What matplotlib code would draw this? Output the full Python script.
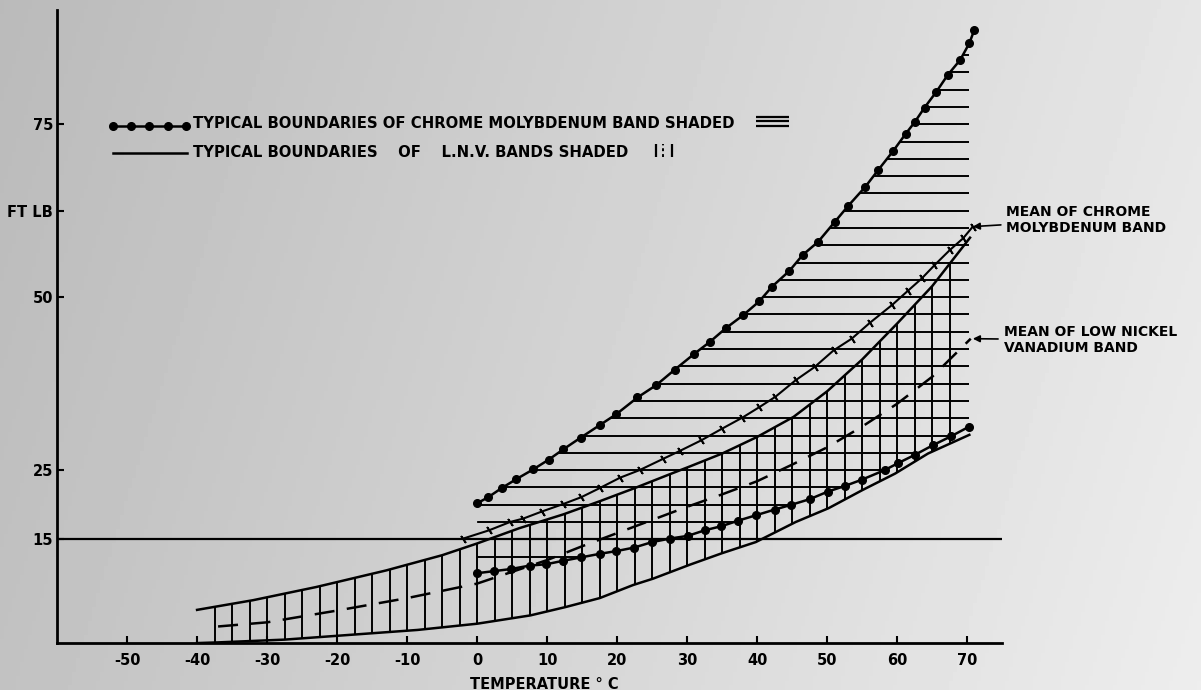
"""
Charpy-type impact curves: typical boundaries of the chrome molybdenum band
(horizontal hatch) and the low nickel vanadium band (vertical hatch).
"""

import numpy as np
import matplotlib.pyplot as plt
from matplotlib.patches import Polygon

plt.rcParams["font.family"] = ["DejaVu Sans"]
plt.rcParams["font.weight"] = "bold"
plt.rcParams["axes.unicode_minus"] = False

# chrome molybdenum band, upper boundary (dots as drawn)
crmo_upper_t = [0, 1.6, 3.5, 5.6, 8.0, 10.2, 12.3, 14.8, 17.5, 19.9, 22.9, 25.6,
                28.2, 31.0, 33.2, 35.5, 38.0, 40.3, 42.1, 44.6, 46.5, 48.7, 51.1,
                53.0, 55.4, 57.3, 59.4, 61.2, 62.5, 63.9, 65.6, 67.2, 69.0, 70.3, 71.0]
crmo_upper_v = [20.2, 21.1, 22.4, 23.7, 25.1, 26.5, 28.0, 29.7, 31.5, 33.1, 35.5, 37.3,
                39.5, 41.8, 43.5, 45.5, 47.4, 49.4, 51.5, 53.8, 56.1, 58.0, 60.9,
                63.2, 65.9, 68.4, 71.1, 73.6, 75.3, 77.4, 79.7, 82.1, 84.3, 86.7, 88.6]

# chrome molybdenum band, lower boundary
crmo_lower_t = [0, 2.4, 4.8, 7.5, 9.9, 12.3, 14.9, 17.5, 19.9, 22.4, 25.0, 27.5,
                30.1, 32.5, 34.9, 37.3, 39.9, 42.5, 44.9, 47.5, 50.1, 52.5, 54.9,
                58.2, 60.1, 62.5, 65.1, 67.7, 70.3]
crmo_lower_v = [10.1, 10.4, 10.7, 11.2, 11.4, 11.9, 12.4, 12.9, 13.3, 13.8, 14.6, 15.1,
                15.5, 16.3, 16.9, 17.7, 18.5, 19.3, 20.0, 20.8, 21.9, 22.7, 23.6,
                25.0, 26.0, 27.2, 28.6, 29.9, 31.3]

# mean of chrome molybdenum band (ticked line)
crmo_mean_t = [-2.0, 1.7, 4.7, 6.6, 9.2, 12.3, 14.9, 17.5, 20.4, 23.2, 26.5, 29.0, 32.0,
               35.0, 37.9, 40.3, 42.6, 45.5, 48.2, 50.9, 53.5, 56.1, 59.3, 61.5,
               63.5, 65.3, 67.5, 69.4, 70.8]
crmo_mean_v = [15.1, 16.3, 17.5, 18.0, 19.0, 20.1, 21.1, 22.4, 23.9, 25.0, 26.6, 27.8, 29.3,
               31.0, 32.6, 34.1, 35.6, 38.0, 39.9, 42.3, 44.0, 46.3, 48.9, 50.9,
               52.7, 54.6, 56.8, 58.5, 60.2]

# low nickel vanadium band, upper boundary
lnv_upper_t = [-40.0, -32.0, -23.0, -13.0, -5.0, 0, 6.0, 12.3, 17.5, 22.5, 27.5, 30.3,
               35.0, 40.0, 45.2, 50.0, 55.0, 60.0, 65.0, 70.4]
lnv_upper_v = [4.8, 6.2, 8.1, 10.5, 12.7, 14.4, 16.6, 18.6, 20.5, 22.4, 24.4, 25.5,
               27.4, 29.8, 32.7, 36.4, 41.0, 46.2, 51.6, 58.6]

# low nickel vanadium band, lower boundary
lnv_lower_t = [-40.0, -37.0, -27.5, -18.0, -8.5, 0, 7.6, 12.6, 17.5, 22.3, 25.1, 30.3,
               35.0, 39.8, 45.5, 50.2, 55.0, 59.7, 64.4, 70.3]
lnv_lower_v = [0.0, 0.1, 0.5, 1.2, 1.9, 2.8, 4.0, 5.2, 6.5, 8.4, 9.3, 11.3,
               13.0, 14.6, 17.5, 19.5, 22.1, 24.5, 27.4, 30.1]

# mean of low nickel vanadium band (dashed)
lnv_mean_t = [-37, -30, -20, -10, 0, 5, 10, 15, 20, 25, 30, 35, 40, 45, 50, 55, 60, 65, 70.5]
lnv_mean_v = [2.4, 3.0, 4.7, 6.5, 8.6, 10.3, 12.0, 14.0, 15.9, 17.8, 19.7, 21.5, 23.4,
              25.8, 28.3, 31.3, 34.6, 38.5, 44.0]

ref_level = 15
x_ticks = [-50, -40, -30, -20, -10, 0, 10, 20, 30, 40, 50, 60, 70]
y_ticks = [15, 25, 50, 62.5, 75]
y_tick_labels = ["15", "25", "50", "FT LB", "75"]


def band_polygon(ax, top_t, top_v, bot_t, bot_v):
    verts = list(zip(top_t, top_v)) + list(zip(bot_t[::-1], bot_v[::-1]))
    return Polygon(verts, closed=True, transform=ax.transData)


def main():
    fig = plt.figure(figsize=(12.01, 6.90), dpi=100)

    # scanned-paper background, darker on the left
    bg = fig.add_axes([0, 0, 1, 1], zorder=-10)
    gx, gy = np.meshgrid(np.linspace(0, 1, 300), np.linspace(0, 1, 150))
    shade = 0.73 + 0.17 * gx + 0.03 * gy
    bg.imshow(shade, cmap="gray", vmin=0, vmax=1, aspect="auto", extent=[0, 1, 0, 1])
    bg.axis("off")

    ax = fig.add_axes([0.0475, 0.068, 0.787, 0.9174])
    ax.set_facecolor("none")
    ax.set_xlim(-60, 75)
    ax.set_ylim(0, 91.5)

    # hatching of the two bands
    crmo_poly = band_polygon(ax, crmo_upper_t, crmo_upper_v, crmo_lower_t, crmo_lower_v)
    hl = ax.hlines(np.arange(2.5, 90, 2.5), 0, 70.3, colors="k", lw=1.4)
    hl.set_clip_path(crmo_poly)

    lnv_poly = band_polygon(ax, lnv_upper_t, lnv_upper_v, lnv_lower_t, lnv_lower_v)
    vl = ax.vlines(np.arange(-37.5, 70, 2.5), 0, 91, colors="k", lw=1.4)
    vl.set_clip_path(lnv_poly)

    ax.axhline(ref_level, color="k", lw=1.6)

    # boundaries and means
    ax.plot(crmo_upper_t, crmo_upper_v, color="k", lw=1.8, marker="o", ms=5.5)
    ax.plot(crmo_lower_t, crmo_lower_v, color="k", lw=1.8, marker="o", ms=5.5)
    ax.plot(crmo_mean_t, crmo_mean_v, color="k", lw=1.5, marker=(2, 2, 35), ms=6, mew=1.3)
    ax.plot(lnv_upper_t, lnv_upper_v, color="k", lw=1.8)
    ax.plot(lnv_lower_t, lnv_lower_v, color="k", lw=1.8)
    ax.plot(lnv_mean_t, lnv_mean_v, color="k", lw=1.8, linestyle=(0, (8, 5)))

    # hand-drawn style key
    key_x = np.linspace(-52.0, -41.6, 5)
    ax.plot(key_x, [74.8] * 5, color="k", lw=1.8, marker="o", ms=5.5)
    ax.plot([-52.0, -41.4], [70.8, 70.8], color="k", lw=1.8)
    ax.text(-40.6, 75.1, "TYPICAL BOUNDARIES OF CHROME MOLYBDENUM BAND SHADED",
            fontsize=10.7, va="center", ha="left")
    ax.text(-40.6, 70.9, "TYPICAL BOUNDARIES    OF    L.N.V. BANDS SHADED",
            fontsize=10.7, va="center", ha="left")
    ax.hlines([76.0, 75.4, 74.8], 39.8, 44.5, colors="k", lw=1.6)
    ax.vlines([25.6, 27.9], 70.2, 72.2, colors="k", lw=1.6)
    ax.vlines([26.6], 70.2, 72.2, colors="k", lw=1.4, linestyles=(0, (1.5, 1.5)))

    ax.annotate("MEAN OF CHROME\nMOLYBDENUM BAND", xy=(70.8, 60.2), xytext=(75.6, 61.2),
                fontsize=10, ha="left", va="center", linespacing=1.15,
                annotation_clip=False,
                arrowprops=dict(arrowstyle="-|>", color="k", lw=1.2,
                                shrinkA=2, shrinkB=0, mutation_scale=10))
    ax.annotate("MEAN OF LOW NICKEL\nVANADIUM BAND", xy=(70.8, 44.0), xytext=(75.2, 43.8),
                fontsize=10, ha="left", va="center", linespacing=1.15,
                annotation_clip=False,
                arrowprops=dict(arrowstyle="-|>", color="k", lw=1.2,
                                shrinkA=2, shrinkB=0, mutation_scale=10))

    # axes
    for side in ("top", "right"):
        ax.spines[side].set_visible(False)
    for side in ("left", "bottom"):
        ax.spines[side].set_linewidth(2.0)
    ax.set_xticks(x_ticks)
    ax.set_xticklabels([str(t) for t in x_ticks])
    ax.set_yticks(y_ticks)
    ax.set_yticklabels(y_tick_labels)
    ax.tick_params(axis="both", direction="in", length=5, width=1.5, labelsize=10.5)
    ax.tick_params(axis="x", pad=7)
    ax.tick_params(axis="y", pad=3)
    ax.set_xlabel("TEMPERATURE \u00b0 C", fontsize=10.5, fontweight="bold")
    ax.xaxis.set_label_coords(0.516, -0.054)

    fig.savefig("out.png", dpi=100)


if __name__ == "__main__":
    main()
